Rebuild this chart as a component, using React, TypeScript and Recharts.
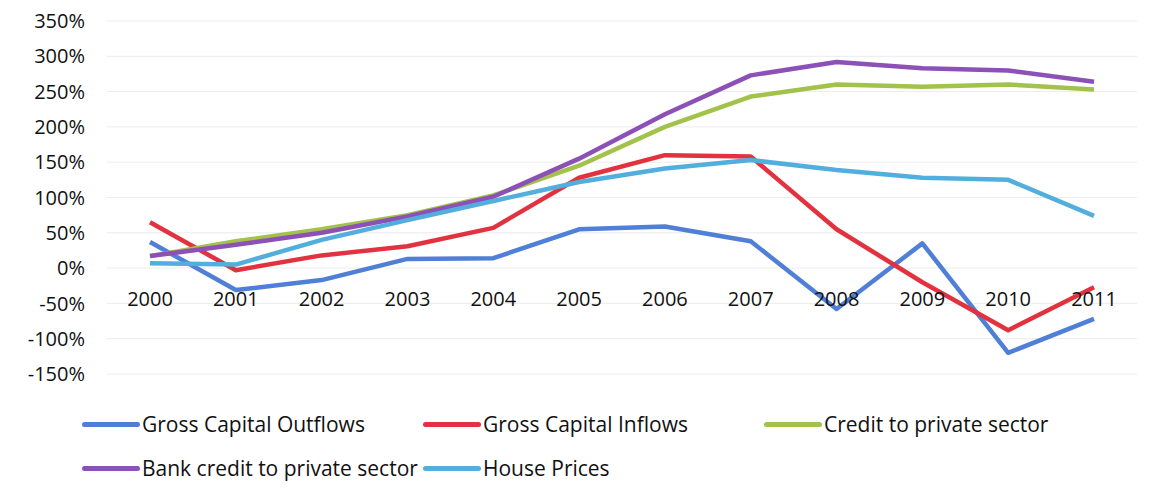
import React from "react";
import { LineChart, Line, XAxis, YAxis, CartesianGrid, Legend } from "recharts";

const years = ["2000","2001","2002","2003","2004","2005","2006","2007","2008","2009","2010","2011"];
const grossOutflows = [37, -31, -17, 13, 14, 55, 59, 38, -58, 35, -120, -72];
const grossInflows = [65, -3, 18, 31, 57, 128, 160, 158, 55, -20, -88, -27];
const creditPrivate = [17, 38, 55, 75, 103, 145, 200, 243, 260, 257, 260, 253];
const bankCredit = [17, 33, 50, 73, 101, 155, 218, 273, 292, 283, 280, 264];
const housePrices = [7, 5, 40, 68, 95, 122, 141, 153, 139, 128, 125, 74];
const yTicks = [-150, -100, -50, 0, 50, 100, 150, 200, 250, 300, 350];

const series = [
  { key: "out", name: "Gross Capital Outflows", color: "#4F7FD6", values: grossOutflows },
  { key: "in", name: "Gross Capital Inflows", color: "#E2323F", values: grossInflows },
  { key: "credit", name: "Credit to private sector", color: "#A2C24C", values: creditPrivate },
  { key: "bank", name: "Bank credit to private sector", color: "#8C50B6", values: bankCredit },
  { key: "house", name: "House Prices", color: "#52AEDD", values: housePrices },
];

const data = years.map((y, i) => {
  const row: Record<string, any> = { year: y };
  series.forEach((s) => (row[s.key] = s.values[i]));
  return row;
});

const W = 1155;
const H = 502;
const X_AXIS_H = 30;
const M = { top: 21, right: 18, left: 7, bottom: 128 - X_AXIS_H };
const Y_MIN = -150;
const Y_MAX = 350;
const PLOT_H = H - M.top - M.bottom - X_AXIS_H;
const zeroFromBottom = (PLOT_H * (0 - Y_MIN)) / (Y_MAX - Y_MIN);
const FONT = "'Open Sans', sans-serif";

const XTick = (props: any) => {
  const { x, y, payload } = props;
  return (
    <text x={x} y={y - zeroFromBottom + 30} textAnchor="middle" fontFamily={FONT} fontSize={20} fill="#111">
      {payload.value}
    </text>
  );
};

const LegendContent = () => (
  <div style={{ display: "flex", flexWrap: "wrap", width: 1030, fontFamily: FONT, fontSize: 21, color: "#111" }}>
    {series.map((s) => (
      <div key={s.key} style={{ width: 341, height: 44, display: "flex", alignItems: "center" }}>
        <span style={{ display: "inline-block", width: 58, height: 5, background: s.color, borderRadius: 3, marginRight: 2 }} />
        <span style={{ whiteSpace: "nowrap" }}>{s.name}</span>
      </div>
    ))}
  </div>
);

export default function App() {
  return (
    <div style={{ margin: -8, width: W, height: H, background: "#fff", position: "relative" }}>
      <LineChart width={W} height={H} data={data} margin={M}>
        <CartesianGrid vertical={false} stroke="#ececec" />
        <XAxis
          dataKey="year"
          axisLine={false}
          tickLine={false}
          height={X_AXIS_H}
          tick={<XTick />}
          interval={0}
          padding={{ left: 43, right: 43 }}
        />
        <YAxis
          domain={[Y_MIN, Y_MAX]}
          ticks={yTicks}
          axisLine={false}
          tickLine={false}
          width={100}
          tickFormatter={(v: number) => `${v}%`}
          tick={{ fontFamily: FONT, fontSize: 20, fill: "#111", dx: -14 }}
        />
        <Legend
          layout="horizontal"
          verticalAlign="middle"
          align="center"
          content={<LegendContent />}
          wrapperStyle={{ position: "absolute", left: 82, top: 402, width: 1030, height: 90 }}
        />
        {series.map((s) => (
          <Line
            key={s.key}
            dataKey={s.key}
            name={s.name}
            stroke={s.color}
            strokeWidth={4.5}
            dot={false}
            strokeLinejoin="round"
            isAnimationActive={false}
          />
        ))}
      </LineChart>
    </div>
  );
}
